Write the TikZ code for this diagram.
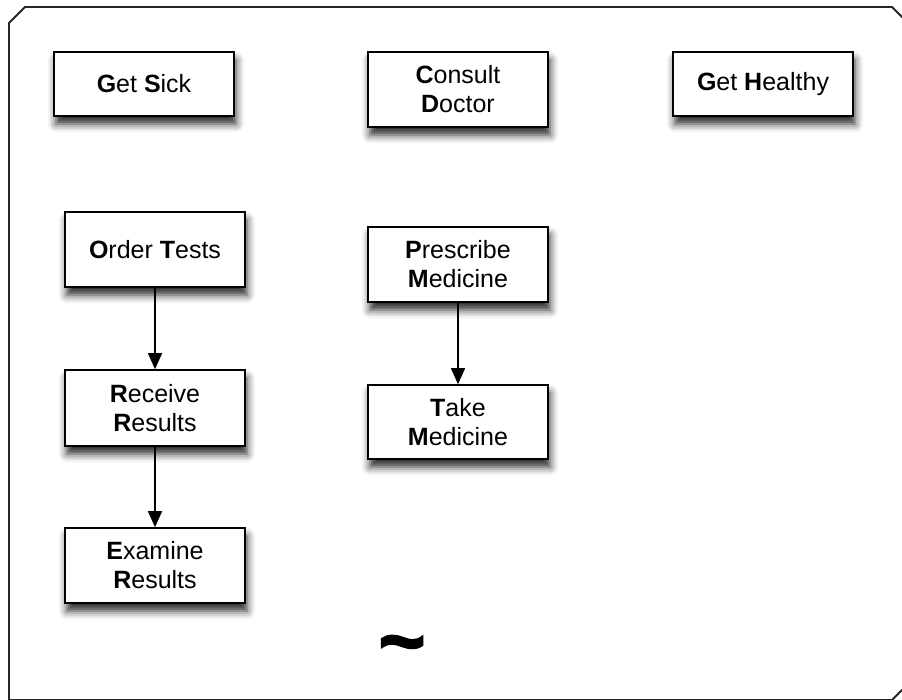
\documentclass[tikz,border=0pt]{standalone}
\usepackage{fontspec}
\setmainfont{Liberation Sans}
\newfontfamily\tildefont[FakeBold=2.5]{Liberation Sans Bold}
\usetikzlibrary{arrows.meta,shadows.blur}
\tikzset{
  box/.style={draw=black, line width=1.6pt, fill=white, minimum width=180pt,
    align=center, font=\fontsize{25}{29}\selectfont, inner sep=0pt,
    blur shadow={shadow xshift=2pt, shadow yshift=-8pt, shadow blur radius=8pt, shadow opacity=85}},
  flow/.style={line width=1.5pt, -{Triangle[length=16pt,width=14pt]}},
  frame/.style={line width=1.8pt, draw=black!85}
}
\begin{document}
\begin{tikzpicture}[x=1pt,y=-1pt]
\useasboundingbox (0,0) rectangle (902,700);
\draw[frame] (9,700) -- (9,23) -- (25,7) -- (892,7) -- (908,23) -- (908,684) -- (892,700) -- (25,700) -- cycle;
\node[box, minimum height=64pt] (getsick) at (144,84) {\textbf{G}et \textbf{S}ick};
\node[box, minimum height=75pt] (consult) at (458,89.5) {\textbf{C}onsult\\\textbf{D}octor};
\node[box, minimum height=64pt] (healthy) at (763,84) {\textbf{G}et \textbf{H}ealthy};
\node[box, minimum height=75pt] (order) at (155,249.5) {\textbf{O}rder \textbf{T}ests};
\node[box, minimum height=76pt] (receive) at (155,408) {\textbf{R}eceive\\\textbf{R}esults};
\node[box, minimum height=75pt] (examine) at (155,565.5) {\textbf{E}xamine\\\textbf{R}esults};
\node[box, minimum height=75pt] (prescribe) at (458,264.5) {\textbf{P}rescribe\\\textbf{M}edicine};
\node[box, minimum height=74pt] (take) at (458,422) {\textbf{T}ake\\\textbf{M}edicine};
\draw[flow] (order) -- (receive);
\draw[flow] (receive) -- (examine);
\draw[flow] (prescribe) -- (take);
\node[font=\tildefont\fontsize{80}{80}\selectfont, inner sep=0pt] (tilde) at (402,652) {\char`\~};
\end{tikzpicture}
\end{document}
